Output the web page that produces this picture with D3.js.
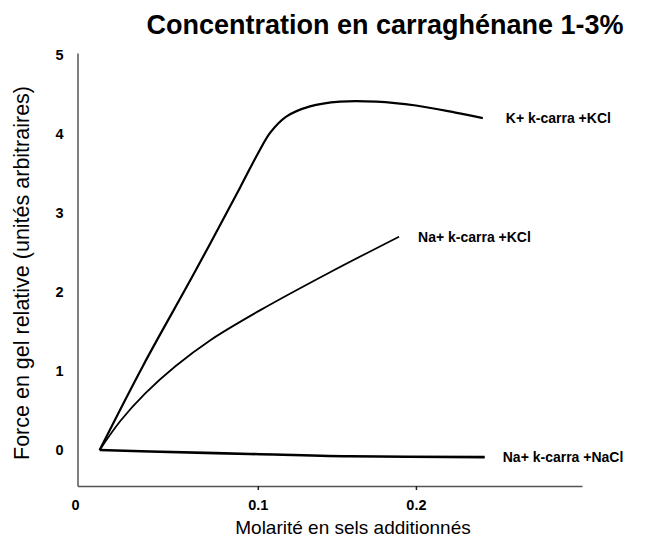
<!DOCTYPE html>
<html>
<head>
<meta charset="utf-8">
<script src="https://cdn.jsdelivr.net/npm/d3@7"></script>
<style>
  html, body { margin: 0; padding: 0; background: #fff; }
  svg { display: block; }
</style>
</head>
<body>
<svg id="chart" width="655" height="541"></svg>
<script>
// ---- Data ----
const title = "Concentration en carraghénane 1-3%";
const xTitle = "Molarité en sels additionnés";
const yTitle = "Force en gel relative (unités arbitraires)";

const xTicks = [0.1, 0.2];
const yTicks = [0, 1, 2, 3, 4, 5];
const xOriginLabel = "0";

const seriesNames = ["K+ k-carra +KCl", "Na+ k-carra +KCl", "Na+ k-carra +NaCl"];

const kKclX = [0, 0.0278, 0.0593, 0.0890, 0.1000, 0.1080, 0.1180, 0.1330, 0.1520, 0.1750, 0.2000, 0.2250, 0.2423];
const kKclY = [0, 1.08, 2.22, 3.33, 3.75, 4.02, 4.22, 4.35, 4.41, 4.41, 4.36, 4.27, 4.20];

const naKclX = [0, 0.0132, 0.0290, 0.0479, 0.0700, 0.1016, 0.1457, 0.1893];
const naKclY = [0, 0.37, 0.72, 1.06, 1.39, 1.77, 2.25, 2.70];

const naNaclX = [0, 0.032, 0.095, 0.158, 0.2435];
const naNaclY = [0, -0.02, -0.05, -0.08, -0.09];

const xDomain = [-0.014, 0.305];
const yDomain = [-0.456, 5.025];

// ---- Layout ----
const svg = d3.select("#chart");
const mLeft = 77.5, mRight = 582, mTop = 53, mBottom = 486;

const x = d3.scaleLinear().domain(xDomain).range([mLeft, mRight]);
const y = d3.scaleLinear().domain(yDomain).range([mBottom, mTop]);

const sans = "'Liberation Sans', Arial, sans-serif";

// Title
svg.append("text")
  .attr("x", 385).attr("y", 34)
  .attr("text-anchor", "middle")
  .style("font-family", sans).style("font-weight", "bold").style("font-size", "27px")
  .attr("fill", "#000")
  .text(title);

// X axis
const xAxis = d3.axisBottom(x).tickValues(xTicks).tickFormat(d3.format(".1f")).tickSize(4).tickSizeOuter(0);
const gx = svg.append("g").attr("transform", `translate(0,${mBottom})`).call(xAxis);
gx.select(".domain").attr("stroke", "#555").attr("stroke-width", 1.5);
gx.selectAll(".tick line").attr("stroke", "#222").attr("stroke-width", 1.5);
gx.selectAll(".tick text")
  .attr("y", 14)
  .style("font-family", sans).style("font-weight", "bold").style("font-size", "14.5px")
  .attr("fill", "#000");

// "0" origin label on the x axis
svg.append("text")
  .attr("x", mLeft - 2).attr("y", mBottom + 24)
  .attr("text-anchor", "middle")
  .style("font-family", sans).style("font-weight", "bold").style("font-size", "14.5px")
  .text(xOriginLabel);

// Y axis
const yAxis = d3.axisLeft(y).tickValues(yTicks).tickFormat(d3.format("d")).tickSize(0).tickPadding(14).tickSizeOuter(0);
const gy = svg.append("g").attr("transform", `translate(${mLeft},0)`).call(yAxis);
gy.select(".domain").attr("stroke", "#555").attr("stroke-width", 1.5);
gy.selectAll(".tick text")
  .style("font-family", sans).style("font-weight", "bold").style("font-size", "14.5px")
  .attr("fill", "#000");

// Axis titles
svg.append("text")
  .attr("x", 353).attr("y", 534)
  .attr("text-anchor", "middle")
  .style("font-family", sans).style("font-size", "19px")
  .text(xTitle);

svg.append("text")
  .attr("transform", "translate(29,273) rotate(-90)")
  .attr("text-anchor", "middle")
  .style("font-family", sans).style("font-size", "21.5px")
  .text(yTitle);

// Curves
const line = d3.line().x(d => x(d[0])).y(d => y(d[1])).curve(d3.curveCatmullRom.alpha(0.5));
const series = [
  { name: seriesNames[0], xs: kKclX, ys: kKclY, w: 2.2 },
  { name: seriesNames[1], xs: naKclX, ys: naKclY, w: 1.8 },
  { name: seriesNames[2], xs: naNaclX, ys: naNaclY, w: 2.6 }
];
const labelDx = [23, 19, 18];

series.forEach((s, i) => {
  const pts = s.xs.map((v, j) => [v, s.ys[j]]);
  svg.append("path")
    .attr("d", line(pts))
    .attr("fill", "none")
    .attr("stroke", "#000")
    .attr("stroke-width", s.w)
    .attr("stroke-linejoin", "round");
  const last = pts[pts.length - 1];
  svg.append("text")
    .attr("x", x(last[0]) + labelDx[i])
    .attr("y", y(last[1]))
    .attr("dy", "0.35em")
    .style("font-family", sans).style("font-weight", "bold").style("font-size", "14px")
    .text(s.name);
});
</script>
</body>
</html>
